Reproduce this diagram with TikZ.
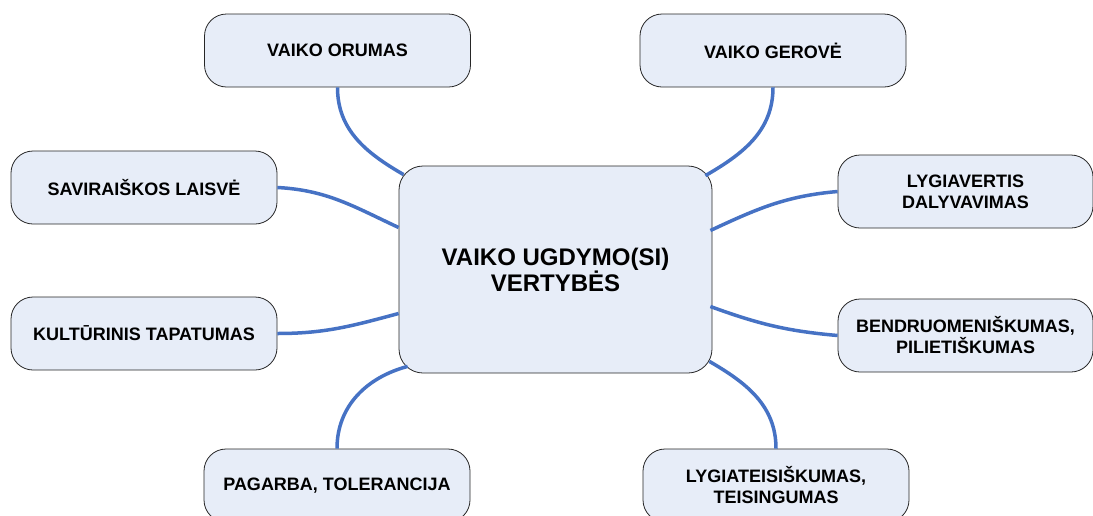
\documentclass[tikz,border=0pt]{standalone}
\usepackage{fontspec}
\setmainfont{Liberation Sans}
\usetikzlibrary{calc}
\definecolor{valuefill}{RGB}{231,237,248}
\definecolor{linkblue}{RGB}{70,114,196}

\begin{document}
\begin{tikzpicture}[x=1pt,y=1pt,font=\bfseries\fontsize{18}{21}\selectfont]
  \tikzset{value/.style={draw=black!85,line width=0.8pt,fill=valuefill,rounded corners=22pt,
      minimum width=266pt,minimum height=73pt,inner sep=0pt,align=center},
    link/.style={draw=linkblue,line width=3.5pt}}
  \useasboundingbox (0,0) rectangle (1093,-515);
  \node[value,minimum width=313pt,minimum height=207pt,rounded corners=24pt,
    font=\bfseries\fontsize{24}{26}\selectfont] (core) at (555.5,-269.5) {VAIKO UGDYMO(SI)\\VERTYBĖS};
  \node[value] (orumas) at (337.5,-50.5) {VAIKO ORUMAS};
  \node[value] (gerove) at (773,-50.5) {VAIKO GEROVĖ};
  \node[value] (laisve) at (144,-187.5) {SAVIRAIŠKOS LAISVĖ};
  \node[value] (tapatumas) at (144,-333.5) {KULTŪRINIS TAPATUMAS};
  \node[value,minimum width=255pt] (dalyvavimas) at (965.5,-191.5) {LYGIAVERTIS\\DALYVAVIMAS};
  \node[value,minimum width=255pt] (pilietiskumas) at (965.5,-335.5) {BENDRUOMENIŠKUMAS,\\PILIETIŠKUMAS};
  \node[value] (pagarba) at (337,-485.5) {PAGARBA, TOLERANCIJA};
  \node[value] (teisingumas) at (776,-485.5) {LYGIATEISIŠKUMAS,\\TEISINGUMAS};
  \path[link] (orumas.south) edge[out=-90,in=150] ($(core.north west)+(5,-9)$);
  \path[link] (gerove.south) edge[out=-90,in=30] ($(core.north east)+(-7,-10)$);
  \path[link] (laisve.east) edge[out=-3,in=155] ($(core.west)+(0,42)$);
  \path[link] (tapatumas.east) edge[out=0,in=195] ($(core.west)+(0,-44)$);
  \path[link] (dalyvavimas.west) edge[out=185,in=25] ($(core.east)+(-2,39)$);
  \path[link] (pilietiskumas.west) edge[out=175,in=-20] ($(core.east)+(-2,-37)$);
  \path[link] (pagarba.north) edge[out=90,in=195] ($(core.south west)+(9,7)$);
  \path[link] (teisingumas.north) edge[out=90,in=-30] ($(core.south east)+(-3,12)$);
\end{tikzpicture}
\end{document}
